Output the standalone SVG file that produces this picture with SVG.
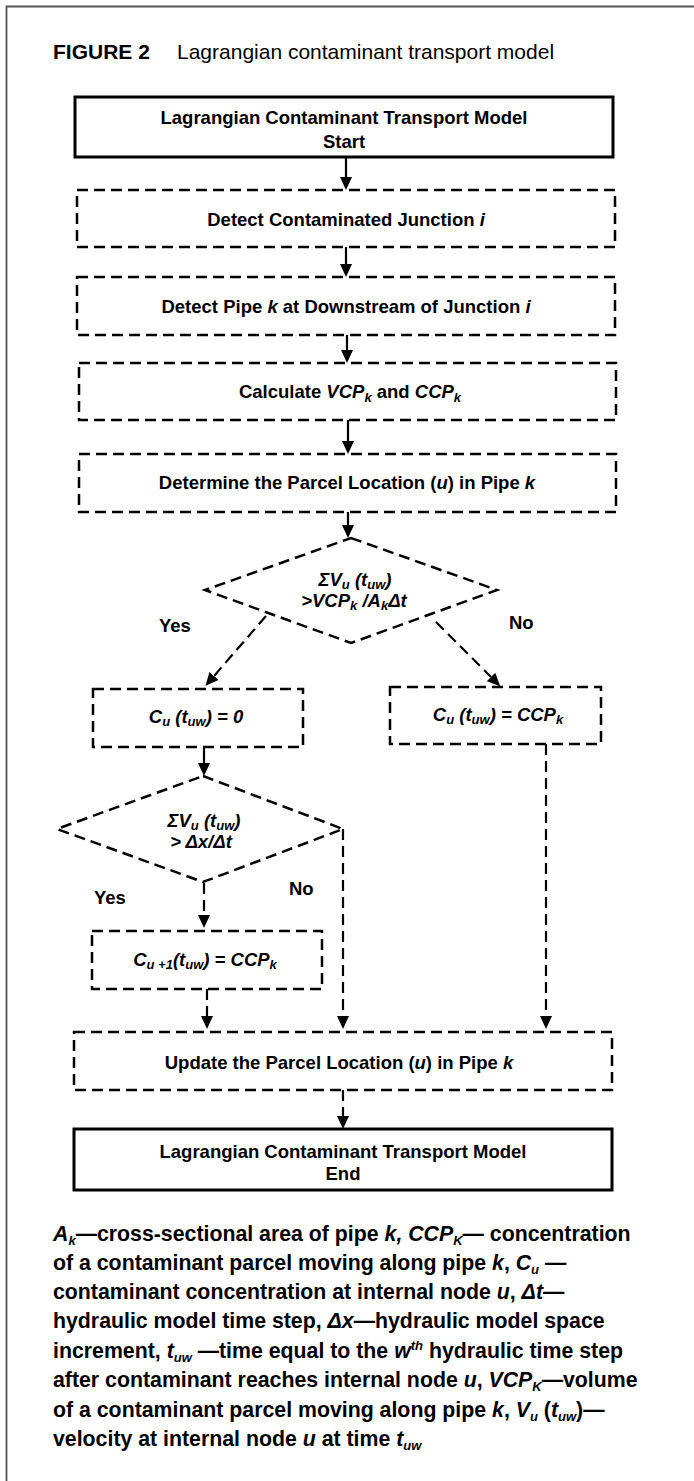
<svg xmlns="http://www.w3.org/2000/svg" width="694" height="1481" viewBox="0 0 694 1481">
  <defs>
    <marker id="head" viewBox="0 0 13 12" markerWidth="13" markerHeight="12" refX="0" refY="6" orient="auto" markerUnits="userSpaceOnUse">
      <path d="M0,0 L13,6 L0,12 z" fill="#000"/>
    </marker>
    <style>
      text { font-family: "Liberation Sans", Arial, sans-serif; fill: #000; }
      .title { font-size: 21px; }
      .lbl { font-size: 18.5px; font-weight: bold; text-anchor: middle; }
      .math { font-size: 18.5px; font-weight: bold; font-style: italic; text-anchor: middle; }
      .yn { font-size: 18.5px; font-weight: bold; }
      .legend { font-size: 21.3px; font-weight: bold; }
      .i { font-style: italic; }
      .sub { font-size: 13px; }
      .solidbox { fill: #fff; stroke: #000; stroke-width: 3; }
      .dashbox { fill: #fff; stroke: #000; stroke-width: 2.5; stroke-dasharray: 11 6; }
      .diamond { fill: #fff; stroke: #000; stroke-width: 2.5; stroke-dasharray: 11 6; }
      .flow { fill: none; stroke: #000; stroke-width: 2.2; marker-end: url(#head); }
      .flow.dash { stroke-dasharray: 11 6; }
      .frame { fill: none; stroke: #555; stroke-width: 1.8; }
    </style>
  </defs>

  <!-- page frame: top and left rules -->
  <path class="frame" d="M6.5,1481 V6.5 H694"/>

  <!-- caption -->
  <text class="title" x="53" y="59"><tspan font-weight="bold">FIGURE 2</tspan></text>
  <text class="title" x="177" y="59">Lagrangian contaminant transport model</text>

  <!-- connectors -->
  <g id="connectors">
    <path class="flow" d="M346,157 V177"/>
    <path class="flow" d="M346,247 V264"/>
    <path class="flow" d="M347,335 V350"/>
    <path class="flow" d="M348,420 V441"/>
    <path class="flow" d="M348,512 V525"/>
    <!-- decision 1 branches -->
    <path class="flow dash" d="M266,616 L214,676"/>
    <path class="flow dash" d="M436,622 L491,677"/>
    <!-- Cu = 0 to decision 2 -->
    <path class="flow" d="M204,747 V763"/>
    <!-- decision 2 branches -->
    <path class="flow dash" d="M204,883 V915"/>
    <path class="flow dash" d="M343,829 V1016"/>
    <!-- into the update step -->
    <path class="flow dash" d="M207,989 V1016"/>
    <path class="flow dash" d="M546,744 V1016"/>
    <path class="flow dash" d="M343,1090 V1116"/>
  </g>

  <g id="start">
    <rect class="solidbox" x="75" y="97" width="538" height="60"/>
    <text class="lbl" x="344" y="124">Lagrangian Contaminant Transport Model</text>
    <text class="lbl" x="344" y="148">Start</text>
  </g>

  <g id="detect-junction">
    <rect class="dashbox" x="77" y="190" width="538" height="57"/>
    <text class="lbl" x="346" y="226">Detect Contaminated Junction <tspan class="i">i</tspan></text>
  </g>

  <g id="detect-pipe">
    <rect class="dashbox" x="77" y="277" width="538" height="58"/>
    <text class="lbl" x="346" y="313">Detect Pipe <tspan class="i">k</tspan> at Downstream of Junction <tspan class="i">i</tspan></text>
  </g>

  <g id="calculate">
    <rect class="dashbox" x="79" y="363" width="537" height="57"/>
    <text class="lbl" x="350" y="398">Calculate <tspan class="i">VCP</tspan><tspan class="i sub" dy="4">k</tspan><tspan dy="-4"> and </tspan><tspan class="i">CCP</tspan><tspan class="i sub" dy="4">k</tspan></text>
  </g>

  <g id="parcel-location">
    <rect class="dashbox" x="79" y="454" width="537" height="58"/>
    <text class="lbl" x="347" y="489">Determine the Parcel Location (<tspan class="i">u</tspan>) in Pipe <tspan class="i">k</tspan></text>
  </g>

  <g id="decision-1">
    <polygon class="diamond" points="351,538 497,590 351,643 205,590"/>
    <text class="math" x="355" y="586">ΣV<tspan class="sub" dy="3">u</tspan><tspan dy="-3"> (t</tspan><tspan class="sub" dy="3">uw</tspan><tspan dy="-3">)</tspan></text>
    <text class="math" x="354" y="607">&gt;VCP<tspan class="sub" dy="3">k</tspan><tspan dy="-3"> /A</tspan><tspan class="sub" dy="3">k</tspan><tspan dy="-3">Δt</tspan></text>
    <text class="yn" x="159" y="632">Yes</text>
    <text class="yn" x="509" y="629">No</text>
  </g>

  <g id="zero-concentration">
    <rect class="dashbox" x="93" y="689" width="210" height="58"/>
    <text class="math" x="196" y="723">C<tspan class="sub" dy="3">u</tspan><tspan dy="-3"> (t</tspan><tspan class="sub" dy="3">uw</tspan><tspan dy="-3">) = 0</tspan></text>
  </g>

  <g id="parcel-concentration">
    <rect class="dashbox" x="390" y="687" width="211" height="57"/>
    <text class="math" x="498" y="721">C<tspan class="sub" dy="3">u</tspan><tspan dy="-3"> (t</tspan><tspan class="sub" dy="3">uw</tspan><tspan dy="-3">) = CCP</tspan><tspan class="sub" dy="3">k</tspan></text>
  </g>

  <g id="decision-2">
    <polygon class="diamond" points="203,776 343,829 203,882 57,829"/>
    <text class="math" x="204" y="827">ΣV<tspan class="sub" dy="3">u</tspan><tspan dy="-3"> (t</tspan><tspan class="sub" dy="3">uw</tspan><tspan dy="-3">)</tspan></text>
    <text class="math" x="201" y="848">&gt; Δx/Δt</text>
    <text class="yn" x="94" y="904">Yes</text>
    <text class="yn" x="289" y="895">No</text>
  </g>

  <g id="next-node">
    <rect class="dashbox" x="92" y="931" width="230" height="58"/>
    <text class="math" x="205" y="966">C<tspan class="sub" dy="3">u +1</tspan><tspan dy="-3">(t</tspan><tspan class="sub" dy="3">uw</tspan><tspan dy="-3">) = CCP</tspan><tspan class="sub" dy="3">k</tspan></text>
  </g>

  <g id="update">
    <rect class="dashbox" x="74" y="1032" width="538" height="58"/>
    <text class="lbl" x="339" y="1069">Update the Parcel Location (<tspan class="i">u</tspan>) in Pipe <tspan class="i">k</tspan></text>
  </g>

  <g id="end">
    <rect class="solidbox" x="74" y="1129" width="538" height="61"/>
    <text class="lbl" x="343" y="1158">Lagrangian Contaminant Transport Model</text>
    <text class="lbl" x="343" y="1180">End</text>
  </g>

  <!-- symbol key -->
  <g id="key">
    <text class="legend" x="53" y="1241"><tspan class="i">A</tspan><tspan class="i sub" dy="4">k</tspan><tspan dy="-4">—cross-sectional area of pipe </tspan><tspan class="i">k, CCP</tspan><tspan class="i sub" dy="4">K</tspan><tspan dy="-4">— concentration</tspan></text>
    <text class="legend" x="53" y="1270">of a contaminant parcel moving along pipe  <tspan class="i">k</tspan>, <tspan class="i">C</tspan><tspan class="i sub" dy="4">u</tspan><tspan dy="-4"> —</tspan></text>
    <text class="legend" x="53" y="1299">contaminant concentration at internal node  <tspan class="i">u</tspan>, <tspan class="i">Δt</tspan>—</text>
    <text class="legend" x="53" y="1328">hydraulic model time step, <tspan class="i">Δx</tspan>—hydraulic model space</text>
    <text class="legend" x="53" y="1358">increment, <tspan class="i">t</tspan><tspan class="i sub" dy="4">uw</tspan><tspan dy="-4"> —time equal to the </tspan><tspan class="i">w</tspan><tspan class="i sub" dy="-8">th</tspan><tspan dy="8"> hydraulic time step</tspan></text>
    <text class="legend" x="53" y="1387">after contaminant reaches internal node <tspan class="i">u</tspan>, <tspan class="i">VCP</tspan><tspan class="i sub" dy="4">K</tspan><tspan dy="-4">—volume</tspan></text>
    <text class="legend" x="53" y="1417">of a contaminant parcel moving along pipe <tspan class="i">k</tspan>, <tspan class="i">V</tspan><tspan class="i sub" dy="4">u</tspan><tspan dy="-4"> (</tspan><tspan class="i">t</tspan><tspan class="i sub" dy="4">uw</tspan><tspan dy="-4">)—</tspan></text>
    <text class="legend" x="53" y="1446">velocity at internal node <tspan class="i">u</tspan> at time <tspan class="i">t</tspan><tspan class="i sub" dy="4">uw</tspan></text>
  </g>
</svg>
